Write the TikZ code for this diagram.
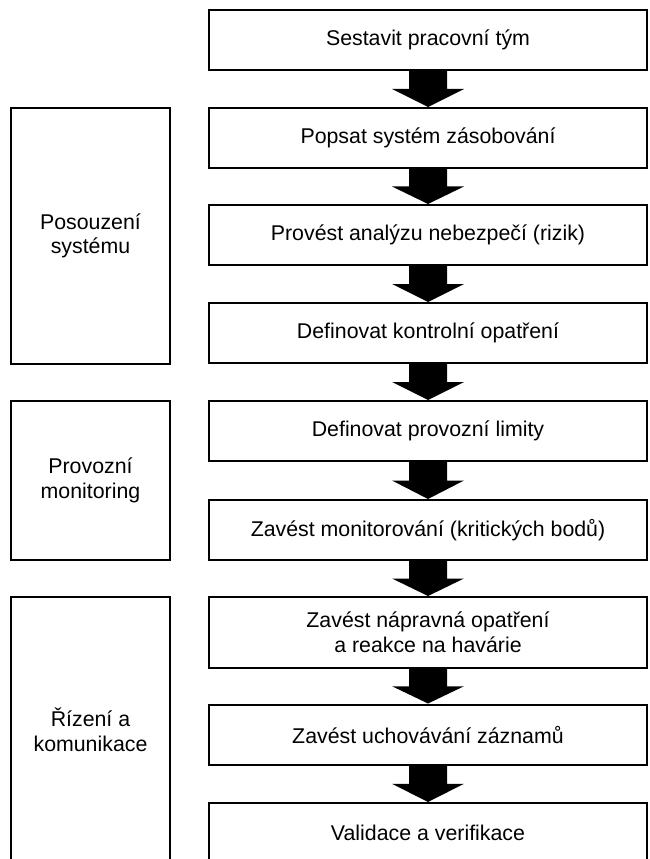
\documentclass[tikz,border=0pt]{standalone}
\usepackage{fontspec}
\setmainfont{Liberation Sans}
\usetikzlibrary{calc}
\newcommand{\bigarr}[2]{%
  \fill ($(#1.south)+(-19,0)$) -- ($(#1.south)!0.5!(#2.north)+(-19,0)$)
    -- ($(#1.south)!0.5!(#2.north)+(-36,0)$) -- (#2.north)
    -- ($(#1.south)!0.5!(#2.north)+(36,0)$) -- ($(#1.south)!0.5!(#2.north)+(19,0)$)
    -- ($(#1.south)+(19,0)$) -- cycle;}
\begin{document}
\begin{tikzpicture}[x=0.75pt,y=-0.75pt,
  stepbox/.style={draw, line width=1.5pt, rectangle, minimum width=328.5pt,
    minimum height=45pt, inner sep=0pt, align=center,
    font=\fontsize{16}{18.5}\selectfont},
  sidebox/.style={draw, line width=1.5pt, rectangle, minimum width=119.25pt,
    inner sep=0pt, align=center, font=\fontsize{16}{18.5}\selectfont}]
\useasboundingbox (0,0) rectangle (649,859);
\clip (0,0) rectangle (649,859);
\node[stepbox] (b1) at (428,40) {Sestavit pracovní tým};
\node[stepbox] (b2) at (428,138) {Popsat systém zásobování};
\node[stepbox] (b3) at (428,235) {Provést analýzu nebezpečí (rizik)};
\node[stepbox] (b4) at (428,333) {Definovat kontrolní opatření};
\node[stepbox] (b5) at (428,431) {Definovat provozní limity};
\node[stepbox] (b6) at (428,530) {Zavést monitorování (kritických bodů)};
\node[stepbox, minimum height=53.25pt] (b7) at (428,632.5) {Zavést nápravná opatření\\a reakce na havárie};
\node[stepbox] (b8) at (428,734.5) {Zavést uchovávání záznamů};
\node[stepbox] (b9) at (428,833) {Validace a verifikace};
\bigarr{b1}{b2}
\bigarr{b2}{b3}
\bigarr{b3}{b4}
\bigarr{b4}{b5}
\bigarr{b5}{b6}
\bigarr{b6}{b7}
\bigarr{b7}{b8}
\bigarr{b8}{b9}
\node[sidebox, minimum height=191.25pt] (s1) at (90.5,236) {Posouzení\\systému};
\node[sidebox, minimum height=119.25pt] (s2) at (90.5,480.5) {Provozní\\monitoring};
\node[sidebox, minimum height=199.5pt] (s3) at (90.5,730) {Řízení a\\komunikace};
\end{tikzpicture}
\end{document}
